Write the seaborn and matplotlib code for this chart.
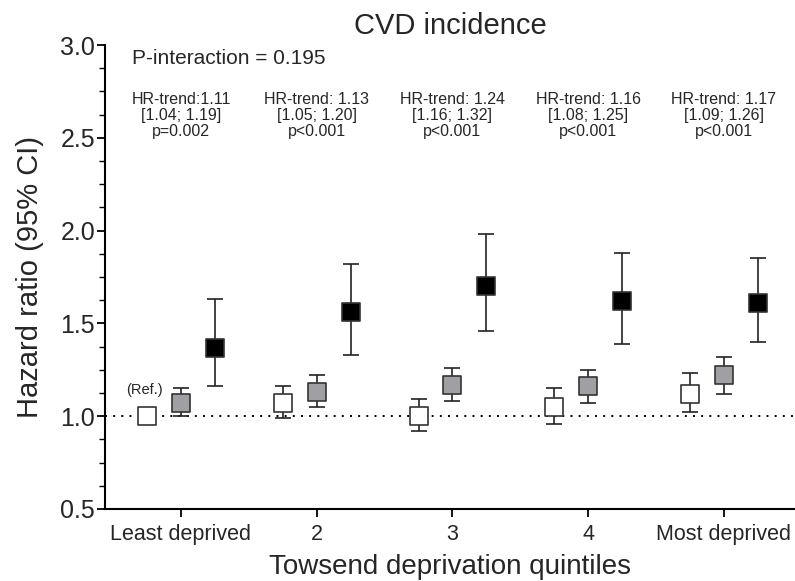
import matplotlib
matplotlib.use("Agg")
import matplotlib.pyplot as plt
from matplotlib.ticker import MultipleLocator, FormatStrFormatter
import seaborn as sns
import pandas as pd

# ---- data ----
quintiles = ["Least deprived", "2", "3", "4", "Most deprived"]
groups = ["low", "mid", "high"]
hr_low = [1.00, 1.07, 1.00, 1.05, 1.12]
lo_low = [1.00, 0.99, 0.92, 0.96, 1.02]
hi_low = [1.00, 1.16, 1.09, 1.15, 1.23]
hr_mid = [1.07, 1.13, 1.17, 1.16, 1.22]
lo_mid = [1.00, 1.05, 1.08, 1.07, 1.12]
hi_mid = [1.15, 1.22, 1.26, 1.25, 1.32]
hr_high = [1.37, 1.56, 1.70, 1.62, 1.61]
lo_high = [1.16, 1.33, 1.46, 1.39, 1.40]
hi_high = [1.63, 1.82, 1.98, 1.88, 1.85]
trend_texts = [
    "HR-trend:1.11\n[1.04; 1.19]\np=0.002",
    "HR-trend: 1.13\n[1.05; 1.20]\np<0.001",
    "HR-trend: 1.24\n[1.16; 1.32]\np<0.001",
    "HR-trend: 1.16\n[1.08; 1.25]\np<0.001",
    "HR-trend: 1.17\n[1.09; 1.26]\np<0.001",
]
p_interaction = "P-interaction = 0.195"

# ---- styling ----
offsets = {"low": -0.25, "mid": 0.0, "high": 0.25}
fills = {"low": "white", "mid": "#a0a0a4", "high": "black"}

rows = []
for g, hr, lo, hi in [("low", hr_low, lo_low, hi_low),
                      ("mid", hr_mid, lo_mid, hi_mid),
                      ("high", hr_high, lo_high, hi_high)]:
    for i, q in enumerate(quintiles):
        rows.append(dict(group=g, qi=i, quintile=q, hr=hr[i], lo=lo[i], hi=hi[i],
                         x=i + offsets[g]))
df = pd.DataFrame(rows)

sns.set_theme(style="ticks")
plt.rcParams["font.family"] = ["Liberation Sans", "DejaVu Sans"]

fig = plt.figure(figsize=(7.95, 5.81), dpi=100)
ax = fig.add_axes([0.132, 0.124, 0.868, 0.7985])

ax.axhline(1.0, color="black", linestyle=(0, (1, 3.2)), linewidth=1.4, zorder=1)

for g in groups:
    sub = df[df.group == g]
    has_err = ~((sub.lo == sub.hr) & (sub.hi == sub.hr))
    s2 = sub[has_err]
    ax.errorbar(s2.x, s2.hr, yerr=[s2.hr - s2.lo, s2.hi - s2.hr], fmt="none",
                ecolor="#222222", elinewidth=1.2, capsize=6, capthick=1.2, zorder=2)
    sns.scatterplot(data=sub, x="x", y="hr", marker="s", s=150,
                    color=fills[g], edgecolor="#333333", linewidth=1.2,
                    ax=ax, zorder=3, legend=False)

ax.text(-0.27, 1.14, "(Ref.)", ha="center", va="center", fontsize=10.5)

for i, t in enumerate(trend_texts):
    ax.text(i, 2.62, t, ha="center", va="center", fontsize=11.5, linespacing=1.1)

ax.text(-0.36, 2.93, p_interaction, ha="left", va="center", fontsize=15)

ax.set_xlim(-0.56, 4.523)
ax.set_ylim(0.5, 3.0)
ax.set_xticks(range(len(quintiles)))
ax.set_xticklabels(quintiles, fontsize=15.5)
ax.yaxis.set_major_locator(MultipleLocator(0.5))
ax.yaxis.set_minor_locator(MultipleLocator(0.125))
ax.yaxis.set_major_formatter(FormatStrFormatter("%.1f"))
ax.tick_params(axis="y", which="major", labelsize=18, length=6, width=1.3, color="black", pad=1)
ax.tick_params(axis="y", which="minor", length=4, width=1.0, color="black")
ax.tick_params(axis="x", which="major", length=6, width=1.3, color="black", pad=5)
for sp in ["left", "bottom"]:
    ax.spines[sp].set_linewidth(1.5)
    ax.spines[sp].set_color("black")
sns.despine(ax=ax)

ax.set_xlabel("Towsend deprivation quintiles", fontsize=20, labelpad=6)
ax.set_ylabel("Hazard ratio (95% CI)", fontsize=21, labelpad=12)
ax.set_title("CVD incidence", fontsize=21, pad=8)

fig.savefig("out.png", dpi=100)
